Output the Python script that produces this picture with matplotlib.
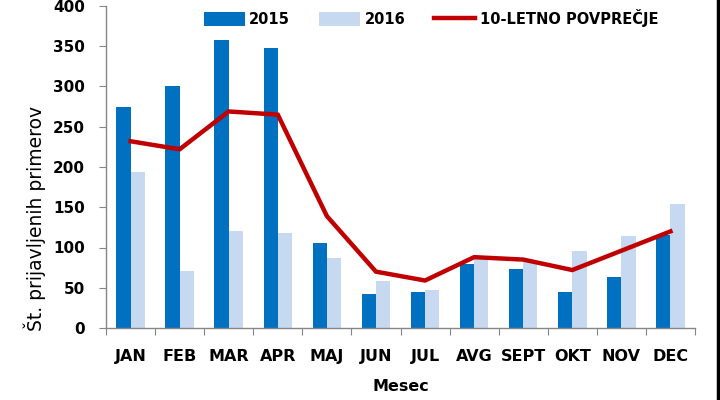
import matplotlib
matplotlib.use("Agg")
import matplotlib.pyplot as plt
import numpy as np
from matplotlib.lines import Line2D

months = ["JAN", "FEB", "MAR", "APR", "MAJ", "JUN", "JUL", "AVG", "SEPT", "OKT", "NOV", "DEC"]
y2015 = [274, 300, 358, 348, 106, 42, 45, 80, 73, 45, 63, 116]
y2016 = [194, 71, 120, 118, 87, 58, 47, 87, 82, 96, 114, 154]
avg10 = [232, 222, 269, 265, 139, 70, 59, 88, 85, 72, 96, 120]
yticks = [0, 50, 100, 150, 200, 250, 300, 350, 400]

plt.rcParams['font.family'] = ['DejaVu Sans']

fig = plt.figure(figsize=(7.2, 4.0), dpi=100)
ax = fig.add_axes([106/720, 1-328/400, (695-106)/720, (328-6)/400])

x = np.arange(len(months))
w = 0.29
b1 = ax.bar(x - w/2, y2015, width=w, color="#0070C0", label="2015", zorder=2)
b2 = ax.bar(x + w/2, y2016, width=w, color="#C6D9F1", label="2016", zorder=2)
l1, = ax.plot(x, avg10, color="#C00000", lw=3.2, label="10-LETNO POVPREČJE", zorder=3,
              solid_joinstyle="miter")

ax.set_xlim(-0.5, len(months) - 0.5)
ax.set_ylim(0, 400)
ax.set_yticks(yticks)
ax.set_yticklabels([str(v) for v in yticks], fontsize=11, fontweight="bold")

ax.set_xticks(np.arange(len(months) + 1) - 0.5)
ax.set_xticklabels([])
ax.set_xticks(x, minor=True)
ax.set_xticklabels(months, minor=True, fontsize=11.5, fontweight="bold")
ax.tick_params(axis="x", which="major", direction="out", length=5, color="#868686")
ax.tick_params(axis="x", which="minor", length=0, pad=15)
ax.tick_params(axis="y", direction="out", length=5, color="#868686", pad=10)

for s in ["top", "right"]:
    ax.spines[s].set_visible(False)
for s in ["left", "bottom"]:
    ax.spines[s].set_color("#868686")
    ax.spines[s].set_linewidth(1.0)

ax.set_ylabel("Št. prijavljenih primerov", fontsize=13.5, va="center")
ax.yaxis.set_label_coords((35-106)/589, (328-218)/322)
ax.set_xlabel("Mesec", fontsize=11.5, fontweight="bold", labelpad=11)

leg = fig.legend(handles=[b1, b2, l1], loc="center", bbox_to_anchor=(431/720, 1-18/400), ncol=3,
                 frameon=False, prop={"weight": "bold", "size": 10.5}, handlelength=2.8,
                 handleheight=1.0, handletextpad=0.3, columnspacing=2.0, borderaxespad=0)

fig.add_artist(Line2D([718/720, 718/720], [0, 1], color="black", lw=2.5, transform=fig.transFigure))

fig.savefig("out.png", dpi=100)
